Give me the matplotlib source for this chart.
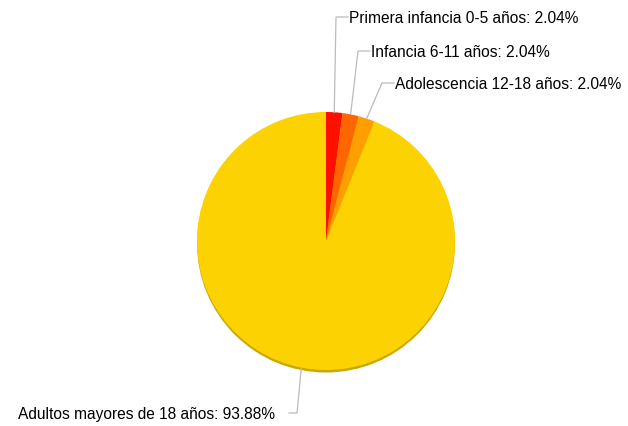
import numpy as np
import matplotlib.pyplot as plt
from matplotlib.patches import Circle

plt.rcParams['font.family'] = ['Liberation Sans', 'DejaVu Sans']

categories = ['Primera infancia 0-5 años', 'Infancia 6-11 años',
              'Adolescencia 12-18 años', 'Adultos mayores de 18 años']
values = [2.04, 2.04, 2.04, 93.88]
colors = ['#FF0F00', '#FF6600', '#FF9E01', '#FCD202']

W, H = 628, 426
cx, cy, R = 326, H - 241, 129
# label anchor (elbow) in pixel coords (x, y from top) and text side
label_pos = [(336, 17, 'right'), (358, 51, 'right'), (382, 83, 'right'), (297, 413, 'left')]

fig = plt.figure(figsize=(W / 100, H / 100), dpi=100)
ax = fig.add_axes([0, 0, 1, 1])

# bottom rim shadow
ax.add_patch(Circle((cx, cy - 2.5), R, color='#C9A800', zorder=1, lw=0))

wedges, _ = ax.pie(values, colors=colors, startangle=90, counterclock=False,
                   center=(cx, cy), radius=R, wedgeprops=dict(linewidth=0))
for w in wedges:
    w.set_zorder(2)

for w, cat, val, (ex, ey, side) in zip(wedges, categories, values, label_pos):
    ang = np.deg2rad((w.theta1 + w.theta2) / 2)
    sx, sy = cx + R * np.cos(ang), cy + R * np.sin(ang)
    ey = H - ey
    hx = ex + 12 if side == 'right' else ex - 8
    ax.plot([sx, ex, hx], [sy, ey, ey], color='#BBBBBB', lw=0.9, zorder=3)
    tx = hx + 1 if side == 'right' else hx - 14
    ax.text(tx, ey - 1.5, f'{cat}: {val:.2f}%', fontsize=11.2, color='#000000',
            ha='left' if side == 'right' else 'right', va='center')

ax.set_xlim(0, W)
ax.set_ylim(0, H)
ax.set_aspect('equal')
ax.axis('off')

fig.savefig('out.png', dpi=100)
